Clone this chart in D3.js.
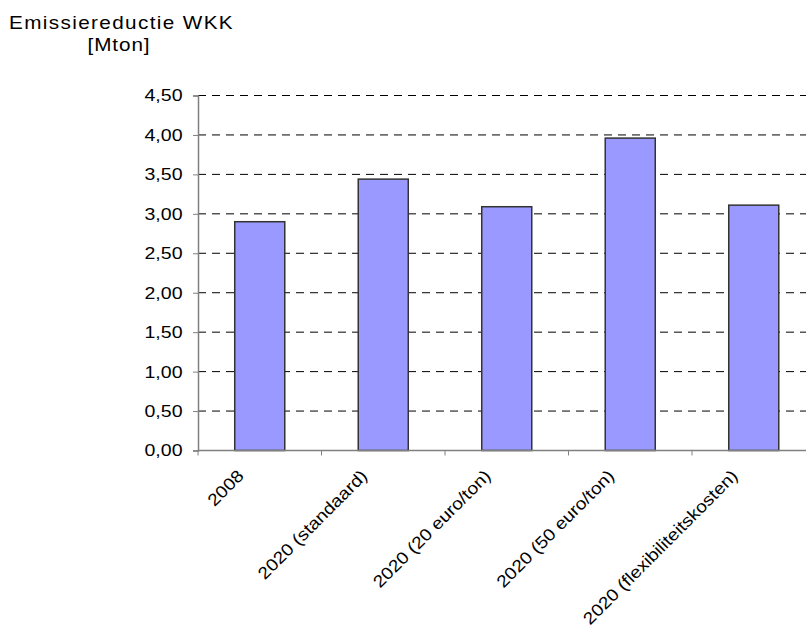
<!DOCTYPE html>
<html><head><meta charset="utf-8">
<script src="https://cdn.jsdelivr.net/npm/d3@7"></script>
<style>body{margin:0;background:#fff;overflow:hidden}text{font-family:"Liberation Sans",Arial,sans-serif}</style>
</head><body><svg id="c" width="806" height="625"></svg>
<script>
const categories = ["2008","2020 (standaard)","2020 (20 euro/ton)","2020 (50 euro/ton)","2020 (flexibiliteitskosten)"];
const values = [2.90, 3.44, 3.09, 3.96, 3.11];
const yTicks = [0,0.5,1,1.5,2,2.5,3,3.5,4,4.5];
const titleLines = ["Emissiereductie WKK","[Mton]"];

(function(){
const svg = d3.select("#c");
const sx = 1.15;
const pl = 198, pr = 198 + 5*123.5, pt = 95.5, pb = 450.5;
const x = d3.scaleBand().domain(categories).range([pl,pr]).paddingInner(0.595).paddingOuter(0.2975);
const xb = d3.scaleBand().domain(categories).range([pl,pr]);
const y = d3.scaleLinear().domain([0,4.5]).range([pb,pt]);
const fmt = v => d3.format(".2f")(v).replace(".",",");

svg.append("g").selectAll("line").data(yTicks.filter(d=>d>0)).join("line")
  .attr("x1",pl).attr("x2",pr).attr("y1",d=>y(d)).attr("y2",d=>y(d))
  .attr("stroke","#000").attr("stroke-width",1).attr("stroke-dasharray","8,6");

svg.append("g").selectAll("rect").data(values).join("rect")
  .attr("x",(d,i)=>x(categories[i])).attr("width",x.bandwidth())
  .attr("y",d=>y(d)).attr("height",d=>pb-y(d))
  .attr("fill","#9999ff").attr("stroke","#333").attr("stroke-width",1.5);

const ya = svg.append("g").attr("transform",`translate(${pl},0)`)
  .call(d3.axisLeft(y).tickValues(yTicks).tickFormat(fmt).tickSize(5).tickPadding(0));
ya.select(".domain").attr("stroke","#808080").attr("stroke-width",1.5);
ya.selectAll(".tick line").attr("stroke","#808080");
ya.selectAll(".tick text").attr("x",0).attr("transform",`translate(-15.5,0) scale(${sx},1)`)
  .attr("font-size",17).attr("fill","#000").style("font-family","Liberation Sans, Arial, sans-serif");

const xa = svg.append("g").attr("transform",`translate(0,${pb})`);
xa.append("line").attr("x1",pl).attr("x2",pr).attr("stroke","#808080").attr("stroke-width",1.5);
xa.selectAll("line.t").data(d3.range(categories.length+1)).join("line").attr("class","t")
  .attr("x1",i=>pl+i*xb.step()).attr("x2",i=>pl+i*xb.step())
  .attr("y1",0).attr("y2",5).attr("stroke","#808080");
xa.selectAll("text").data(categories).join("text")
  .attr("transform",d=>`translate(${xb(d)+xb.bandwidth()/2-15},26.5) rotate(-45) scale(${sx-0.02},1)`)
  .attr("text-anchor","end").attr("font-size",17).attr("fill","#000").text(d=>d);

svg.append("text").attr("transform",`translate(9,29) scale(${sx},1)`).attr("font-size",18)
  .attr("letter-spacing",1.2).text(titleLines[0]);
svg.append("text").attr("transform",`translate(119,51) scale(${sx},1)`).attr("font-size",18)
  .attr("letter-spacing",0.8).attr("text-anchor","middle").text(titleLines[1]);
})();
</script></body></html>
